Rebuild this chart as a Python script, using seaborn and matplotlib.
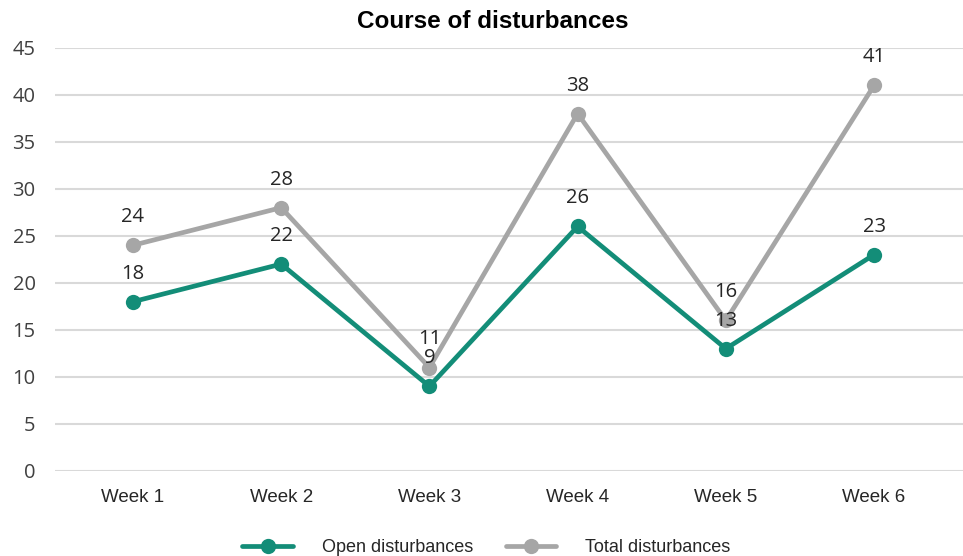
import matplotlib
matplotlib.use("Agg")
import matplotlib.pyplot as plt
import seaborn as sns
import pandas as pd
from matplotlib.lines import Line2D

weeks = ["Week 1", "Week 2", "Week 3", "Week 4", "Week 5", "Week 6"]
open_dist = [18, 22, 9, 26, 13, 23]
total_dist = [24, 28, 11, 38, 16, 41]
series_names = ["Open disturbances", "Total disturbances"]
yticks = [0, 5, 10, 15, 20, 25, 30, 35, 40, 45]

df = pd.DataFrame({
    "week": weeks * 2,
    "value": open_dist + total_dist,
    "series": [series_names[0]] * 6 + [series_names[1]] * 6,
})

sns.set_theme(style="white")
plt.rcParams['font.family'] = ['Liberation Sans', 'DejaVu Sans']

teal = "#138D78"
gray = "#A6A6A6"

fig = plt.figure(figsize=(9.63, 5.56), dpi=100)
ax = fig.add_axes([55 / 963, 0.153, 908 / 963, 0.761])

sns.lineplot(data=df, x="week", y="value", hue="series",
             palette={series_names[0]: teal, series_names[1]: gray},
             hue_order=[series_names[1], series_names[0]],
             marker="o", markersize=11, markeredgewidth=0, linewidth=3.4,
             ax=ax, legend=False, sort=False)

for vals in (open_dist, total_dist):
    for i, v in enumerate(vals):
        ax.annotate(str(v), (i, v), xytext=(0, 13), textcoords="offset points",
                    ha="center", va="bottom", fontsize=14.5, color="#262626",
                    family=["Open Sans", "DejaVu Sans"])

ax.set_ylim(0, 45)
ax.set_xlim(-0.526, 5.60)
ax.set_yticks(yticks)
ax.set_yticklabels([str(t) for t in yticks], family=["Open Sans", "DejaVu Sans"], fontsize=14.5, color="#404040")
ax.tick_params(axis="x", labelsize=13.5, colors="#262626", pad=13, length=0)
ax.tick_params(axis="y", pad=14, length=0)
ax.grid(axis="y", color="#D9D9D9", linewidth=1.5)
ax.set_axisbelow(True)
for s in ax.spines.values():
    s.set_visible(False)
ax.set_xlabel("")
ax.set_ylabel("")
fig.text(493 / 963, 1 - 22 / 556, "Course of disturbances", fontsize=17.5, fontweight="bold",
         color="black", ha="center", va="center")

handles = [Line2D([], [], color=teal, lw=3.4, marker="o", markersize=11, markeredgewidth=0),
           Line2D([], [], color=gray, lw=3.4, marker="o", markersize=11, markeredgewidth=0)]
fig.legend(handles, series_names, loc="lower center", bbox_to_anchor=(0.505, -0.03),
           ncol=2, frameon=False, fontsize=13, handlelength=2.8, columnspacing=1.8, handletextpad=1.6)

fig.savefig("out.png", dpi=100)
